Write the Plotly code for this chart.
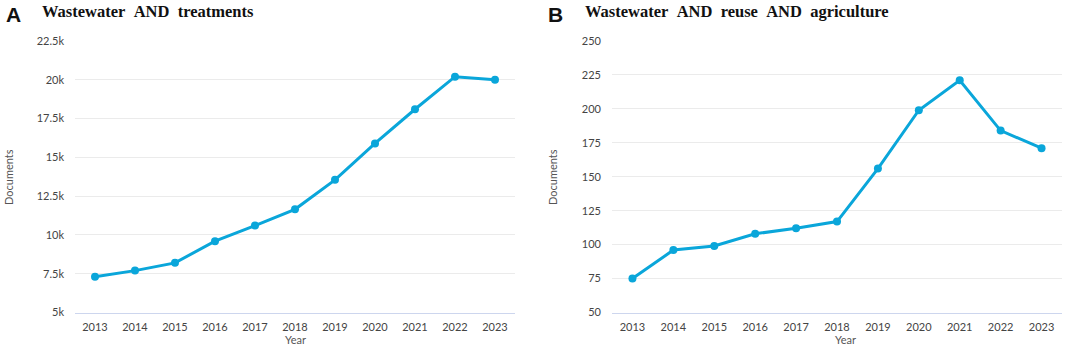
import plotly.graph_objects as go

years = [2013, 2014, 2015, 2016, 2017, 2018, 2019, 2020, 2021, 2022, 2023]
docs_treatments = [7300, 7700, 8200, 9600, 10600, 11650, 13550, 15900, 18100, 20200, 20000]
docs_reuse_agri = [75, 96, 99, 108, 112, 117, 156, 199, 221, 184, 171]

left_ticks = [5000, 7500, 10000, 12500, 15000, 17500, 20000, 22500]
left_ticktext = ["5k", "7.5k", "10k", "12.5k", "15k", "17.5k", "20k", "22.5k"]
right_ticks = [50, 75, 100, 125, 150, 175, 200, 225, 250]

W, H = 1065, 352
LINE = "#0aa6da"
GRID = "#ebebeb"
AXLINE = "#cdd6ee"
TICKFONT = dict(family="Lato, Open Sans, sans-serif", size=11, color="#444444")

fig = go.Figure()
fig.add_trace(go.Scatter(x=years, y=docs_treatments, mode="lines+markers",
                         line=dict(color=LINE, width=3), marker=dict(color=LINE, size=8),
                         xaxis="x", yaxis="y", showlegend=False))
fig.add_trace(go.Scatter(x=years, y=docs_reuse_agri, mode="lines+markers",
                         line=dict(color=LINE, width=3), marker=dict(color=LINE, size=8),
                         xaxis="x2", yaxis="y2", showlegend=False))

ydom = [(H - 312.5) / H, (H - 41) / H]
xcommon = dict(tickmode="array", tickvals=years, ticktext=[str(y) for y in years],
               range=[2012.5, 2023.5], showgrid=False, zeroline=False,
               showline=True, linecolor=AXLINE, linewidth=1, ticks="",
               tickfont=TICKFONT, ticklabelstandoff=4, automargin=False)
ycommon = dict(showgrid=True, gridcolor=GRID, gridwidth=1, zeroline=False,
               showline=False, ticks="", tickfont=TICKFONT, ticklabelstandoff=10,
               automargin=False)

fig.update_layout(
    width=W, height=H, autosize=False,
    margin=dict(l=0, r=0, t=0, b=0, pad=0),
    paper_bgcolor="white", plot_bgcolor="white",
    xaxis=dict(domain=[75 / W, 515 / W], anchor="y", **xcommon),
    yaxis=dict(domain=ydom, anchor="x", range=[5000, 22500],
               tickvals=left_ticks, ticktext=left_ticktext, **ycommon),
    xaxis2=dict(domain=[612 / W, 1062 / W], anchor="y2", **xcommon),
    yaxis2=dict(domain=ydom, anchor="x2", range=[50, 250],
                tickvals=right_ticks, ticktext=[str(v) for v in right_ticks], **ycommon),
)

ann = []
def px(x, y):
    return x / W, 1 - y / H

for lx, label, title, tx in [(4, "A", "Wastewater&nbsp;&nbsp;AND&nbsp;&nbsp;treatments", 40),
                             (546, "B", "Wastewater&nbsp;&nbsp;AND&nbsp;&nbsp;reuse&nbsp;&nbsp;AND&nbsp;&nbsp;agriculture", 583)]:
    x, y = px(lx, 14)
    ann.append(dict(x=x, y=y, xref="paper", yref="paper", text="<b>%s</b>" % label,
                    showarrow=False, xanchor="left", yanchor="middle",
                    font=dict(family="Liberation Sans, Arial, sans-serif", size=21, color="#111111")))
    x, y = px(tx, 11)
    ann.append(dict(x=x, y=y, xref="paper", yref="paper", text="<b>%s</b>" % title,
                    showarrow=False, xanchor="left", yanchor="middle",
                    font=dict(family="Liberation Serif, Times New Roman, serif", size=16.5, color="#111111")))

for dx, yx in [(8, 295), (552, 845)]:
    x, y = px(dx, 177)
    ann.append(dict(x=x, y=y, xref="paper", yref="paper", text="Documents", textangle=-90,
                    showarrow=False, xanchor="center", yanchor="middle",
                    font=dict(family="Lato, Open Sans, sans-serif", size=11, color="#555555")))
    x, y = px(yx, 339)
    ann.append(dict(x=x, y=y, xref="paper", yref="paper", text="Year",
                    showarrow=False, xanchor="center", yanchor="middle",
                    font=dict(family="Lato, Open Sans, sans-serif", size=11, color="#555555")))

fig.update_layout(annotations=ann)
fig.write_html("out.html", config={"displayModeBar": False},
               post_script="document.body.style.margin='0';document.body.style.overflow='hidden';")
